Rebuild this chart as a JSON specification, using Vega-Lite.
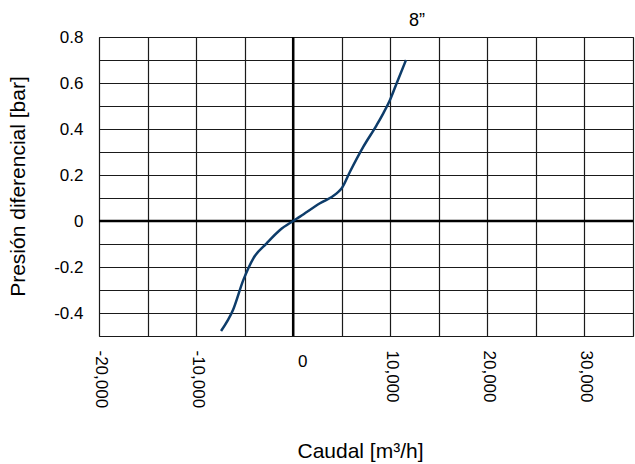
{
  "$schema": "https://vega.github.io/schema/vega-lite/v6.json",
  "width": 534,
  "height": 299,
  "autosize": "none",
  "padding": {"left": 99, "top": 37, "right": 2, "bottom": 128},
  "background": "white",
  "config": {"view": {"stroke": "#222", "strokeWidth": 1}, "font": "Liberation Sans"},
  "title": {"text": "8”", "anchor": "middle", "frame": "group", "dx": 51, "offset": -2, "fontSize": 18, "fontWeight": "normal", "font": "Liberation Sans", "color": "black"},
  "data": {"values": [
    {"caudal": -7430, "presion": -0.478},
    {"caudal": -6200, "presion": -0.387},
    {"caudal": -5140, "presion": -0.257},
    {"caudal": -4100, "presion": -0.162},
    {"caudal": -2730, "presion": -0.097},
    {"caudal": -1360, "presion": -0.039},
    {"caudal": 0, "presion": 0},
    {"caudal": 700, "presion": 0.019},
    {"caudal": 2760, "presion": 0.077},
    {"caudal": 4480, "presion": 0.12},
    {"caudal": 5000, "presion": 0.142},
    {"caudal": 5850, "presion": 0.214},
    {"caudal": 7230, "presion": 0.323},
    {"caudal": 8600, "presion": 0.417},
    {"caudal": 9280, "presion": 0.468},
    {"caudal": 9970, "presion": 0.526},
    {"caudal": 10660, "presion": 0.599},
    {"caudal": 11620, "presion": 0.7}
  ]},
  "layer": [
    {
      "data": {"values": [{}]},
      "mark": {"type": "rule", "color": "black", "strokeWidth": 2.5},
      "encoding": {"x": {"datum": 0, "type": "quantitative"}}
    },
    {
      "data": {"values": [{}]},
      "mark": {"type": "rule", "color": "black", "strokeWidth": 2.5},
      "encoding": {"y": {"datum": 0, "type": "quantitative"}}
    },
    {
      "mark": {"type": "line", "color": "#0d3c6a", "strokeWidth": 2.5, "interpolate": "monotone"},
      "encoding": {
        "x": {
          "field": "caudal", "type": "quantitative",
          "scale": {"domain": [-20000, 35000], "nice": false, "zero": false},
          "axis": {
            "values": [-20000, -15000, -10000, -5000, 0, 5000, 10000, 15000, 20000, 25000, 30000, 35000],
            "tickCount": 40,
            "grid": true, "gridColor": "#1a1a1a", "gridWidth": 1.2,
            "domain": false, "ticks": false,
            "labelAngle": 90,
            "labelAlign": {"condition": {"test": "datum.value === 0", "value": "center"}, "value": "left"},
            "labelBaseline": {"condition": {"test": "datum.value === 0", "value": "top"}, "value": "middle"},
            "labelPadding": {"condition": {"test": "datum.value === 0", "value": 17}, "value": 14},
            "labelOffset": {"condition": {"test": "datum.value === 0", "value": 9}, "value": 1},
            "labelExpr": "datum.value % 10000 === 0 ? (datum.value === 0 ? '0' : replace(format(datum.value, ','), '−', '-')) : ''",
            "labelFontSize": 17, "labelColor": "black", "labelFont": "Liberation Sans",
            "labelOverlap": false, "labelFlush": false, "labelBound": false,
            "title": "Caudal [m³/h]", "titleFontSize": 21, "titleFontWeight": "normal", "titleColor": "black", "titleFont": "Liberation Sans",
            "titleX": 261, "titleY": 121, "titleBaseline": "alphabetic", "titleAlign": "center",
            "encoding": {"labels": {"angle": {"condition": {"test": "datum.value === 0", "value": 0}, "value": 90}}}
          }
        },
        "y": {
          "field": "presion", "type": "quantitative",
          "scale": {"domain": [-0.5, 0.8], "nice": false, "zero": false},
          "axis": {
            "values": [-0.5, -0.4, -0.3, -0.2, -0.1, 0, 0.1, 0.2, 0.3, 0.4, 0.5, 0.6, 0.7, 0.8],
            "tickCount": 40,
            "grid": true, "gridColor": "#1a1a1a", "gridWidth": 1.2,
            "domain": false, "ticks": false,
            "labelPadding": 16,
            "labelExpr": "abs(round(datum.value * 10)) % 2 === 0 ? (datum.value === 0 ? '0' : replace(format(datum.value, '.1f'), '−', '-')) : ''",
            "labelFontSize": 17, "labelColor": "black", "labelFont": "Liberation Sans",
            "labelOverlap": false, "labelFlush": false, "labelBound": false,
            "title": "Presión diferencial [bar]", "titleFontSize": 21, "titleFontWeight": "normal", "titleColor": "black", "titleFont": "Liberation Sans",
            "titleX": -75, "titleY": 149, "titleBaseline": "alphabetic", "titleAlign": "center", "titleAngle": -90
          }
        }
      }
    }
  ]
}
